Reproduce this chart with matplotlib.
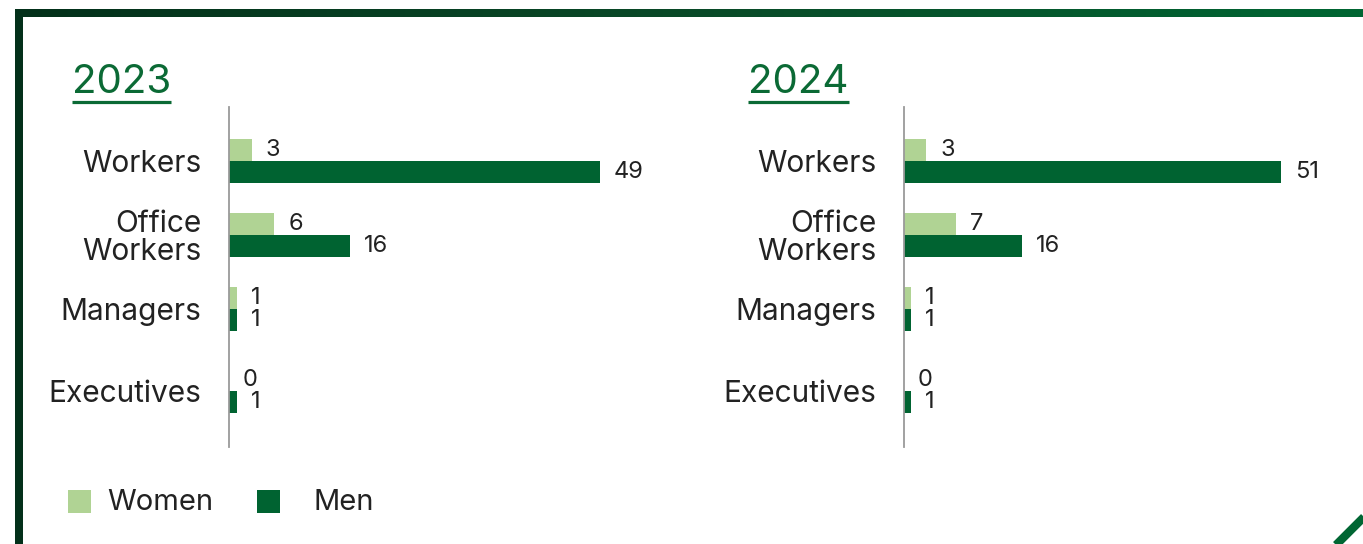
import matplotlib
matplotlib.use("Agg")
import matplotlib.pyplot as plt
import numpy as np
from matplotlib.colors import LinearSegmentedColormap

# ---- data ----
categories = ["Workers", "Office\nWorkers", "Managers", "Executives"]
series_names = ["Women", "Men"]
years = ["2023", "2024"]
women_2023 = [3, 6, 1, 0]
men_2023 = [49, 16, 1, 1]
women_2024 = [3, 7, 1, 0]
men_2024 = [51, 16, 1, 1]

# ---- style ----
W, H = 1363, 544
DPI = 100
C_WOMEN = "#b0d394"
C_MEN = "#006331"
C_TITLE = "#0b6a35"
C_TEXT = "#222222"
C_SPINE = "#9a9a9a"
FONT = ["Inter", "DejaVu Sans"]

plt.rcParams["font.family"] = FONT

fig = plt.figure(figsize=(W / DPI, H / DPI), dpi=DPI)
fig.patch.set_facecolor("white")


def px_rect(x0, y_top, w, h):
    """Convert a pixel box (top-left origin) to figure fractions."""
    return [x0 / W, 1 - (y_top + h) / H, w / W, h / H]


# category slots (row centres in axis units) and bar thickness
slots = [0.0, 1.0, 2.0, 3.11]
bar_h = 0.30

panels = [
    (years[0], women_2023, men_2023, 229, 55.5),
    (years[1], women_2024, men_2024, 904, 56.75),
]

for year, women, men, ax_x, xmax in panels:
    ax = fig.add_axes(px_rect(ax_x, 107, 420, 340))
    y = np.array(slots)
    ax.barh(y - bar_h / 2, women, height=bar_h, color=C_WOMEN, label=series_names[0])
    ax.barh(y + bar_h / 2, men, height=bar_h, color=C_MEN, label=series_names[1])
    for yy, v in zip(y - bar_h / 2, women):
        ax.annotate(str(v), (v, yy), xytext=(10, 0), textcoords="offset points",
                    va="center", ha="left", fontsize=17, color=C_TEXT)
    for yy, v in zip(y + bar_h / 2, men):
        ax.annotate(str(v), (v, yy), xytext=(10, 0), textcoords="offset points",
                    va="center", ha="left", fontsize=17, color=C_TEXT)
    ax.set_xlim(0, xmax)
    ax.set_ylim(3.87, -0.73)
    ax.set_yticks(y)
    ax.set_yticklabels(categories, fontsize=21.5, color=C_TEXT, linespacing=1.02)
    ax.tick_params(axis="y", length=0, pad=20)
    ax.set_xticks([])
    for s in ["top", "right", "bottom"]:
        ax.spines[s].set_visible(False)
    ax.spines["left"].set_color(C_SPINE)
    ax.spines["left"].set_linewidth(1.3)
    ax.set_facecolor("none")

# ---- overlay in pixel coordinates for frame, titles, legend ----
ov = fig.add_axes([0, 0, 1, 1], zorder=-1)
ov.set_xlim(0, W)
ov.set_ylim(H, 0)
ov.axis("off")

# decorative frame: dark left rule, gradient top rule, corner stroke
cmap = LinearSegmentedColormap.from_list("rule", ["#03301a", "#0a4a28", "#006633"])
grad = np.linspace(0, 1, 512)[None, :]
ov.imshow(grad, cmap=cmap, extent=(15, W, 17, 9), aspect="auto", interpolation="bilinear")
ov.add_patch(plt.Rectangle((15, 9), 8, H, color="#03301a", lw=0))
ov.plot([1333, 1368], [548, 513], color="#006633", lw=6, solid_capstyle="butt")
ov.set_xlim(0, W)
ov.set_ylim(H, 0)

# year headings with underline
fig.canvas.draw()
renderer = fig.canvas.get_renderer()
for year, tx in zip(years, [72, 748]):
    t = ov.text(tx, 93, year, fontsize=29, color=C_TITLE, ha="left", va="baseline")
    bb = t.get_window_extent(renderer=renderer)
    ov.plot([bb.x0, bb.x1], [101.5, 101.5], color=C_TITLE, lw=2.3, solid_capstyle="butt")

# legend
for name, col, sx, tx in zip(series_names, [C_WOMEN, C_MEN], [68, 257], [107, 314]):
    ov.add_patch(plt.Rectangle((sx, 490), 23, 23, color=col, lw=0))
    ov.text(tx, 502, name, fontsize=21, color=C_TEXT, ha="left", va="center")

fig.savefig("out.png", dpi=DPI, facecolor="white")
